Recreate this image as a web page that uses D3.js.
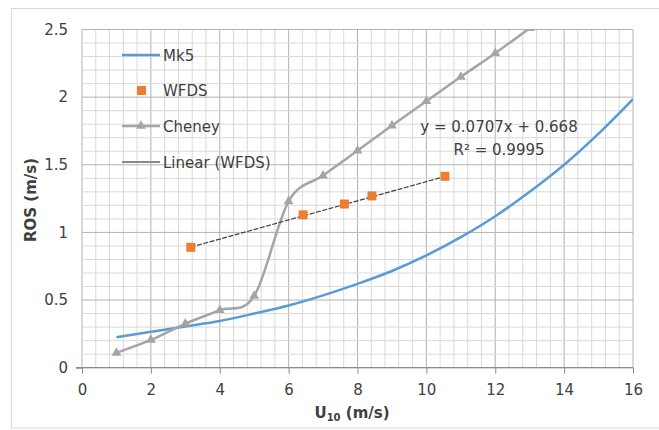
<!DOCTYPE html>
<html><head><meta charset="utf-8">
<script src="https://cdn.jsdelivr.net/npm/d3@7"></script>
<style>
html,body{margin:0;padding:0;background:#fff;}
text{font-family:"DejaVu Sans",sans-serif;}
</style></head>
<body>
<svg id="chart" width="659" height="430"></svg>
<script>
// ---- data ----
const mk5X = [1,2,3,4,5,6,7,8,9,10,11,12,13,14,15,16];
const mk5Y = [0.225,0.265,0.305,0.345,0.40,0.46,0.535,0.62,0.715,0.83,0.965,1.12,1.30,1.50,1.73,1.985];
const wfdsX = [3.16,6.42,7.62,8.42,10.54];
const wfdsY = [0.89,1.13,1.21,1.27,1.415];
const cheneyX = [1,2,3,4,5,6,7,8,9,10,11,12,13];
const cheneyY = [0.11,0.205,0.325,0.425,0.53,1.23,1.42,1.605,1.79,1.97,2.15,2.325,2.51];
const trendSlope = 0.0707, trendIntercept = 0.668;
const xTicks = [0,2,4,6,8,10,12,14,16];
const yTicks = [0,0.5,1,1.5,2,2.5];
const legendLabels = ["Mk5","WFDS","Cheney","Linear (WFDS)"];
const eqLabels = ["y = 0.0707x + 0.668","R² = 0.9995"];

const svg = d3.select("#chart");
const x = d3.scaleLinear().domain([0,16]).range([82,633]);
const y = d3.scaleLinear().domain([0,2.5]).range([367.7,29.5]);

// outer frame
svg.append("rect").attr("x",11.5).attr("y",8.5).attr("width",670).attr("height",419.5)
  .attr("fill","none").attr("stroke","#d9d9d9").attr("stroke-width",1);

// grid
const g = svg.append("g");
d3.range(0,16.001,0.4).forEach(v=>{
  const major = Math.abs(v/2 - Math.round(v/2))<1e-6;
  g.append("line").attr("x1",x(v)).attr("x2",x(v)).attr("y1",y(0)).attr("y2",y(2.5))
   .attr("stroke",major?"#b3b3b3":"#dadada").attr("stroke-width",1);
});
d3.range(0,2.5001,0.1).forEach(v=>{
  const major = Math.abs(v/0.5 - Math.round(v/0.5))<1e-6;
  g.append("line").attr("x1",x(0)).attr("x2",x(16)).attr("y1",y(v)).attr("y2",y(v))
   .attr("stroke",major?"#b3b3b3":"#dadada").attr("stroke-width",1);
});

// axes
const xAxis = d3.axisBottom(x).tickValues(xTicks).tickSize(6).tickFormat(d3.format("d"));
const yAxis = d3.axisLeft(y).tickValues(yTicks).tickSize(6).tickFormat(d=>String(d));
const gx = svg.append("g").attr("transform",`translate(0,${y(0)})`).call(xAxis);
const gy = svg.append("g").attr("transform",`translate(${x(0)},0)`).call(yAxis);
[gx,gy].forEach(a=>{
  a.select(".domain").attr("stroke","#8c8c8c").attr("stroke-width",1.2);
  a.selectAll(".tick line").attr("stroke","#8c8c8c");
  a.selectAll(".tick text").attr("fill","#404040").style("font-size","15px").style("font-family","DejaVu Sans");
});
gx.selectAll(".tick text").attr("dy","1.2em");
gy.selectAll(".tick text").attr("x",-14);
gy.select(".domain").remove();
gy.selectAll(".tick line").filter(d=>d!==0).remove();
gx.select(".domain").attr("d",`M${x(0)-6},0H${x(16)}`);

// clip
svg.append("clipPath").attr("id","clip").append("rect")
  .attr("x",x(0)).attr("y",y(2.5)).attr("width",x(16)-x(0)).attr("height",y(0)-y(2.5));

const plot = svg.append("g").attr("clip-path","url(#clip)");

// Mk5 line
const mk5 = mk5X.map((v,i)=>[v,mk5Y[i]]);
plot.append("path").datum(mk5)
  .attr("d",d3.line().x(d=>x(d[0])).y(d=>y(d[1])).curve(d3.curveCatmullRom.alpha(0)))
  .attr("fill","none").attr("stroke","#5B9BD5").attr("stroke-width",2.5);

// Cheney
const ch = cheneyX.map((v,i)=>[v,cheneyY[i]]);
plot.append("path").datum(ch)
  .attr("d",d3.line().x(d=>x(d[0])).y(d=>y(d[1])).curve(d3.curveCatmullRom.alpha(0)))
  .attr("fill","none").attr("stroke","#A5A5A5").attr("stroke-width",2.5);
const tri = d3.symbol().type(d3.symbolTriangle).size(42);
plot.selectAll(".tri").data(ch).join("path")
  .attr("transform",d=>`translate(${x(d[0])},${y(d[1])})`)
  .attr("d",tri()).attr("fill","#A5A5A5");

// trend line
const tx0 = d3.min(wfdsX), tx1 = d3.max(wfdsX);
plot.append("line")
  .attr("x1",x(tx0)).attr("y1",y(trendSlope*tx0+trendIntercept))
  .attr("x2",x(tx1)).attr("y2",y(trendSlope*tx1+trendIntercept))
  .attr("stroke","#404040").attr("stroke-width",1.2).attr("stroke-dasharray","5,1.5");

// WFDS squares
plot.selectAll(".sq").data(wfdsX.map((v,i)=>[v,wfdsY[i]])).join("rect")
  .attr("x",d=>x(d[0])-4.5).attr("y",d=>y(d[1])-4.5).attr("width",9).attr("height",9)
  .attr("fill","#ED7D31");

// equation
svg.selectAll(".eq").data(eqLabels).join("text")
  .attr("x",499).attr("y",(d,i)=>132+i*23).attr("text-anchor","middle")
  .attr("fill","#404040").style("font-size","15px").text(d=>d);

// legend
const ly = [55,90.5,126,162];
const lg = svg.append("g");
lg.append("line").attr("x1",122).attr("x2",160).attr("y1",ly[0]).attr("y2",ly[0])
  .attr("stroke","#5B9BD5").attr("stroke-width",2.5);
lg.append("rect").attr("x",137).attr("y",ly[1]-4.5).attr("width",9).attr("height",9).attr("fill","#ED7D31");
lg.append("line").attr("x1",122).attr("x2",160).attr("y1",ly[2]).attr("y2",ly[2])
  .attr("stroke","#A5A5A5").attr("stroke-width",2.5);
lg.append("path").attr("transform",`translate(141,${ly[2]})`).attr("d",tri()).attr("fill","#A5A5A5");
lg.append("line").attr("x1",122).attr("x2",160).attr("y1",ly[3]).attr("y2",ly[3])
  .attr("stroke","#8a8a8a").attr("stroke-width",2);
lg.selectAll(".lt").data(legendLabels).join("text")
  .attr("x",163).attr("y",(d,i)=>ly[i]+5.5).attr("fill","#404040")
  .style("font-size","15px").text(d=>d);

// axis titles
svg.append("text").attr("transform","translate(36,200) rotate(-90)")
  .attr("text-anchor","middle").attr("fill","#404040")
  .style("font-size","15px").style("font-weight","bold").text("ROS (m/s)");
const xt = svg.append("text").attr("x",352).attr("y",418).attr("text-anchor","middle")
  .attr("fill","#404040").style("font-size","15px").style("font-weight","bold");
xt.append("tspan").text("U");
xt.append("tspan").attr("dy",3).style("font-size","10px").text("10");
xt.append("tspan").attr("dy",-3).text(" (m/s)");
</script>
</body></html>
